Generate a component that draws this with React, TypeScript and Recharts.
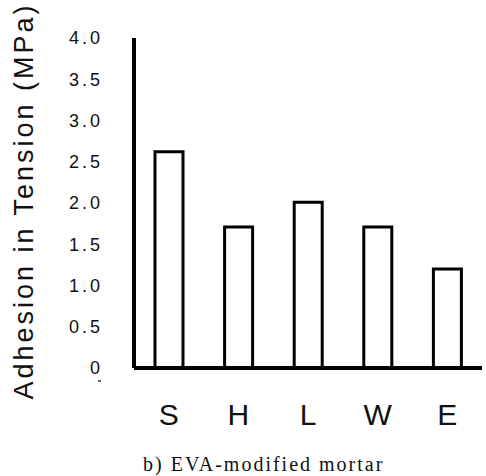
import React from 'react';
import { BarChart, Bar, XAxis, YAxis } from 'recharts';

const categories = ['S', 'H', 'L', 'W', 'E'];
const adhesion = [2.62, 1.71, 2.01, 1.71, 1.2];
const yTicks = [0, 0.5, 1, 1.5, 2, 2.5, 3, 3.5, 4];

const data = categories.map((name, i) => ({ name, value: adhesion[i] }));

const YTick = (props: any) => {
  const { x, y, payload } = props;
  const v = payload.value as number;
  return (
    <g>
      <text
        x={x - 31}
        y={y}
        dy="0.35em"
        textAnchor="end"
        fontFamily="'Liberation Sans', Arial, sans-serif"
        fontSize={18}
        letterSpacing={3}
        fill="#111"
      >
        {v === 0 ? '0' : v.toFixed(1)}
      </text>
      {v === 0 && <line x1={x - 36} x2={x - 33} y1={y + 13} y2={y + 13} stroke="#333" strokeWidth={1.5} />}
    </g>
  );
};

const XTick = (props: any) => {
  const { x, y, payload } = props;
  return (
    <text
      x={x}
      y={y + 57}
      textAnchor="middle"
      fontFamily="'Liberation Sans', Arial, sans-serif"
      fontSize={30}
      fill="#111"
    >
      {payload.value}
    </text>
  );
};

const YLabel = () => (
  <text
    x={33}
    y={201}
    transform="rotate(-90 33 201)"
    textAnchor="middle"
    fontFamily="'Liberation Sans', Arial, sans-serif"
    fontSize={27}
    letterSpacing={3}
    fill="#111"
  >
    Adhesion in Tension (MPa)
  </text>
);

const Caption = () => (
  <text
    x={143}
    y={471}
    fontFamily="'Liberation Serif', 'Times New Roman', serif"
    fontSize={20}
    letterSpacing={2}
    fill="#111"
  >
    b) EVA-modified mortar
  </text>
);

export default function App() {
  return (
    <div style={{ position: 'absolute', left: 0, top: 0, background: '#fff' }}>
      <BarChart
        width={486}
        height={476}
        data={data}
        margin={{ top: 38, right: 4, bottom: 48, left: 0 }}
      >
        <XAxis
          dataKey="name"
          axisLine={{ stroke: '#000', strokeWidth: 4 }}
          tickLine={false}
          tickSize={0}
          tickMargin={0}
          height={60}
          tick={<XTick />}
          label={<Caption />}
        />
        <YAxis
          domain={[0, 4]}
          ticks={yTicks}
          width={134}
          axisLine={{ stroke: '#000', strokeWidth: 4 }}
          tickLine={false}
          tickSize={0}
          tickMargin={0}
          tick={<YTick />}
          label={<YLabel />}
          interval={0}
        />
        <Bar
          dataKey="value"
          barSize={28}
          fill="#fff"
          stroke="#000"
          strokeWidth={3}
          isAnimationActive={false}
        />
      </BarChart>
    </div>
  );
}
